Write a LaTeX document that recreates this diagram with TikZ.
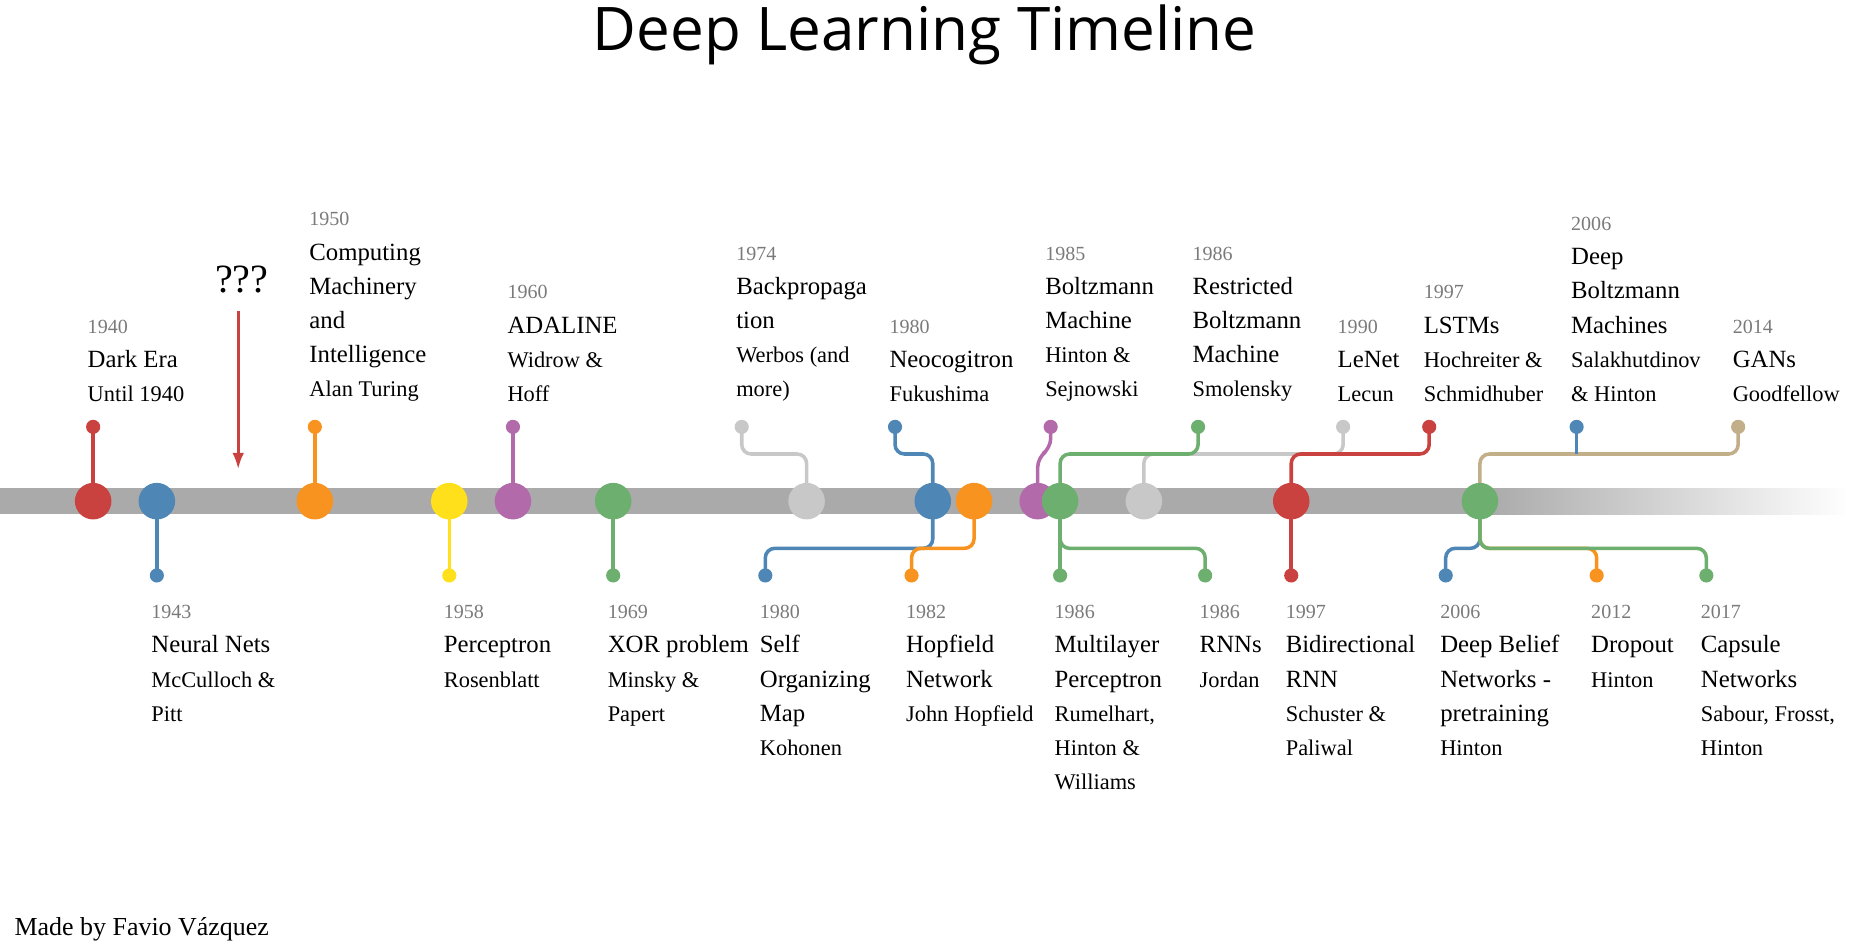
\documentclass[tikz,border=0pt]{standalone}
\usepackage{fontspec}
\usetikzlibrary{arrows.meta}
\setmainfont{Liberation Serif}
\newfontfamily\titlefont{Open Sans}
\definecolor{cred}{HTML}{C9423F}
\definecolor{cblue}{HTML}{4E86B5}
\definecolor{corange}{HTML}{F7931E}
\definecolor{cyellow}{HTML}{FFE01B}
\definecolor{cpurple}{HTML}{B36AAB}
\definecolor{cgreen}{HTML}{6DAF6F}
\definecolor{cgray}{HTML}{C8C8C8}
\definecolor{ctan}{HTML}{C2AE88}
\definecolor{cbar}{HTML}{AAAAAA}
\definecolor{cyear}{HTML}{7A7A7A}
\pgfdeclarelayer{bg}
\pgfdeclarelayer{mid}
\pgfsetlayers{bg,mid,main}
\tikzset{
 big/.style={circle,fill=#1,minimum size=15.5pt,inner sep=0},
 sm/.style={circle,fill=#1,minimum size=6pt,inner sep=0},
 con/.style={draw=#1,line width=1.5pt,rounded corners=4pt},
 toplab/.style={anchor=south west,inner sep=0,align=left,font=\fontsize{10.5}{14.5}\selectfont},
 botlab/.style={anchor=north west,inner sep=0,align=left,font=\fontsize{10.5}{14.5}\selectfont},
}
\newcommand\yr[1]{{\fontsize{8.5}{14.5}\selectfont\color{cyear}#1}}
\newcommand\au[1]{{\fontsize{9.5}{14.5}\selectfont #1}}
\begin{document}
\begin{tikzpicture}[x=0.5pt,y=-0.5pt]
\useasboundingbox (0,0) rectangle (1568,802);
\node[font=\titlefont\fontsize{25.5}{30}\selectfont] (title) at (784,30) {Deep Learning Timeline};
\node[anchor=west,inner sep=0,font=\fontsize{11}{13}\selectfont] (foot) at (12,788) {Made by Favio Vázquez};
\begin{pgfonlayer}{bg}
\fill[cbar] (0,414) rectangle (1262,436);
\shade[left color=cbar,right color=white] (1260,414) rectangle (1568,436);
\end{pgfonlayer}
\coordinate (ht) at (0,385);
\coordinate (hb) at (0,465);
% big circles
\path (79,425) node[big=cred] (b1) {}
 (133,425) node[big=cblue] (b2) {}
 (267,425) node[big=corange] (b3) {}
 (381,425) node[big=cyellow] (b4) {}
 (435,425) node[big=cpurple] (b5) {}
 (520,425) node[big=cgreen] (b6) {}
 (684,425) node[big=cgray] (b7) {}
 (791,425) node[big=cblue] (b8) {}
 (826,425) node[big=corange] (b9) {}
 (880,425) node[big=cpurple] (b10) {}
 (899,425) node[big=cgreen] (b11) {}
 (970,425) node[big=cgray] (b12) {}
 (1095,425) node[big=cred] (b13) {}
 (1255,425) node[big=cgreen] (b14) {};
% dots
\path (79,362) node[sm=cred] (t1) {}
 (267,362) node[sm=corange] (t3) {}
 (435,362) node[sm=cpurple] (t5) {}
 (629,362) node[sm=cgray] (t7) {}
 (759,362) node[sm=cblue] (t8) {}
 (891,362) node[sm=cpurple] (t10) {}
 (1016,362) node[sm=cgreen] (t11) {}
 (1139,362) node[sm=cgray] (t12) {}
 (1212,362) node[sm=cred] (t13) {}
 (1337,362) node[sm=cblue] (t14) {}
 (1474,362) node[sm=ctan] (t15) {}
 (133,488) node[sm=cblue] (u2) {}
 (381,488) node[sm=cyellow] (u4) {}
 (520,488) node[sm=cgreen] (u6) {}
 (649,488) node[sm=cblue] (u8) {}
 (773,488) node[sm=corange] (u9) {}
 (899,488) node[sm=cgreen] (u11) {}
 (1022,488) node[sm=cgreen] (u11b) {}
 (1095,488) node[sm=cred] (u13) {}
 (1226,488) node[sm=cblue] (u14) {}
 (1354,488) node[sm=corange] (u15) {}
 (1447,488) node[sm=cgreen] (u16) {};
% connectors
\begin{pgfonlayer}{mid}
\draw[con=cred] (t1.center) -- (b1.center);
\draw[con=corange] (t3.center) -- (b3.center);
\draw[con=cpurple] (t5.center) -- (b5.center);
\draw[con=cgray] (t7.center) -- (t7 |- ht) -| (b7.center);
\draw[con=cblue] (t8.center) -- (t8 |- ht) -| (b8.center);
\draw[con=cpurple] (t10.center) -- ++(0,18) -- ++(-11,8) -- (b10.center);
\draw[con=cgray] (t12.center) -- (t12 |- ht) -| (b12.center);
\draw[con=cgreen] (t11.center) -- (t11 |- ht) -| (b11.center);
\draw[con=cred] (t13.center) -- (t13 |- ht) -| (b13.center);
\draw[con=ctan] (t15.center) -- (t15 |- ht) -| (b14.center);
\draw[con=cblue] (t14.center) -- (t14 |- ht);
\draw[con=cblue] (u2.center) -- (b2.center);
\draw[con=cyellow] (u4.center) -- (b4.center);
\draw[con=cgreen] (u6.center) -- (b6.center);
\draw[con=cblue] (u8.center) -- (u8 |- hb) -| (b8.center);
\draw[con=corange] (u9.center) -- (u9 |- hb) -| (b9.center);
\draw[con=cgreen] (u11.center) -- (b11.center);
\draw[con=cgreen] (u11b.center) -- (u11b |- hb) -| (b11.center);
\draw[con=cred] (u13.center) -- (b13.center);
\draw[con=cblue] (u14.center) -- (u14 |- hb) -| (b14.center);
\draw[con=corange] (u15.center) -- (u15 |- hb) -| (b14.center);
\draw[con=cgreen] (u16.center) -- (u16 |- hb) -| (b14.center);
\end{pgfonlayer}
% ??? arrow
\node[font=\fontsize{17}{20}\selectfont] (q) at (205,237) {???};
\coordinate (qa) at (202,398);
\draw[cred,line width=1.3pt,-{Latex[length=7pt,width=5pt]}] (q.south -| qa) ++(0,8) -- (qa);
% top labels
\node[toplab] (l1) at (74,341) {\yr{1940}\\Dark Era\\\au{Until 1940}};
\node[toplab] (l3) at (262,341) {\yr{1950}\\Computing\\Machinery\\and\\Intelligence\\\au{Alan Turing}};
\node[toplab] (l5) at (430,341) {\yr{1960}\\ADALINE\\\au{Widrow \&}\\\au{Hoff}};
\node[toplab] (l7) at (624,341) {\yr{1974}\\Backpropaga\\tion\\\au{Werbos (and}\\\au{more)}};
\node[toplab] (l8) at (754,341) {\yr{1980}\\Neocogitron\\\au{Fukushima}};
\node[toplab] (l10) at (886,341) {\yr{1985}\\Boltzmann\\Machine\\\au{Hinton \&}\\\au{Sejnowski}};
\node[toplab] (l11) at (1011,341) {\yr{1986}\\Restricted\\Boltzmann\\Machine\\\au{Smolensky}};
\node[toplab] (l12) at (1134,341) {\yr{1990}\\LeNet\\\au{Lecun}};
\node[toplab] (l13) at (1207,341) {\yr{1997}\\LSTMs\\\au{Hochreiter \&}\\\au{Schmidhuber}};
\node[toplab] (l14) at (1332,341) {\yr{2006}\\Deep\\Boltzmann\\Machines\\\au{Salakhutdinov}\\\au{\& Hinton}};
\node[toplab] (l15) at (1469,341) {\yr{2014}\\GANs\\\au{Goodfellow}};
% bottom labels
\node[botlab] (m2) at (128,513) {\yr{1943}\\Neural Nets\\\au{McCulloch \&}\\\au{Pitt}};
\node[botlab] (m4) at (376,513) {\yr{1958}\\Perceptron\\\au{Rosenblatt}};
\node[botlab] (m6) at (515,513) {\yr{1969}\\XOR problem\\\au{Minsky \&}\\\au{Papert}};
\node[botlab] (m8) at (644,513) {\yr{1980}\\Self\\Organizing\\Map\\\au{Kohonen}};
\node[botlab] (m9) at (768,513) {\yr{1982}\\Hopfield\\Network\\\au{John Hopfield}};
\node[botlab] (m11) at (894,513) {\yr{1986}\\Multilayer\\Perceptron\\\au{Rumelhart,}\\\au{Hinton \&}\\\au{Williams}};
\node[botlab] (m11b) at (1017,513) {\yr{1986}\\RNNs\\\au{Jordan}};
\node[botlab] (m13) at (1090,513) {\yr{1997}\\Bidirectional\\RNN\\\au{Schuster \&}\\\au{Paliwal}};
\node[botlab] (m14) at (1221,513) {\yr{2006}\\Deep Belief\\Networks -\\pretraining\\\au{Hinton}};
\node[botlab] (m15) at (1349,513) {\yr{2012}\\Dropout\\\au{Hinton}};
\node[botlab] (m16) at (1442,513) {\yr{2017}\\Capsule\\Networks\\\au{Sabour, Frosst,}\\\au{Hinton}};
\end{tikzpicture}
\end{document}
